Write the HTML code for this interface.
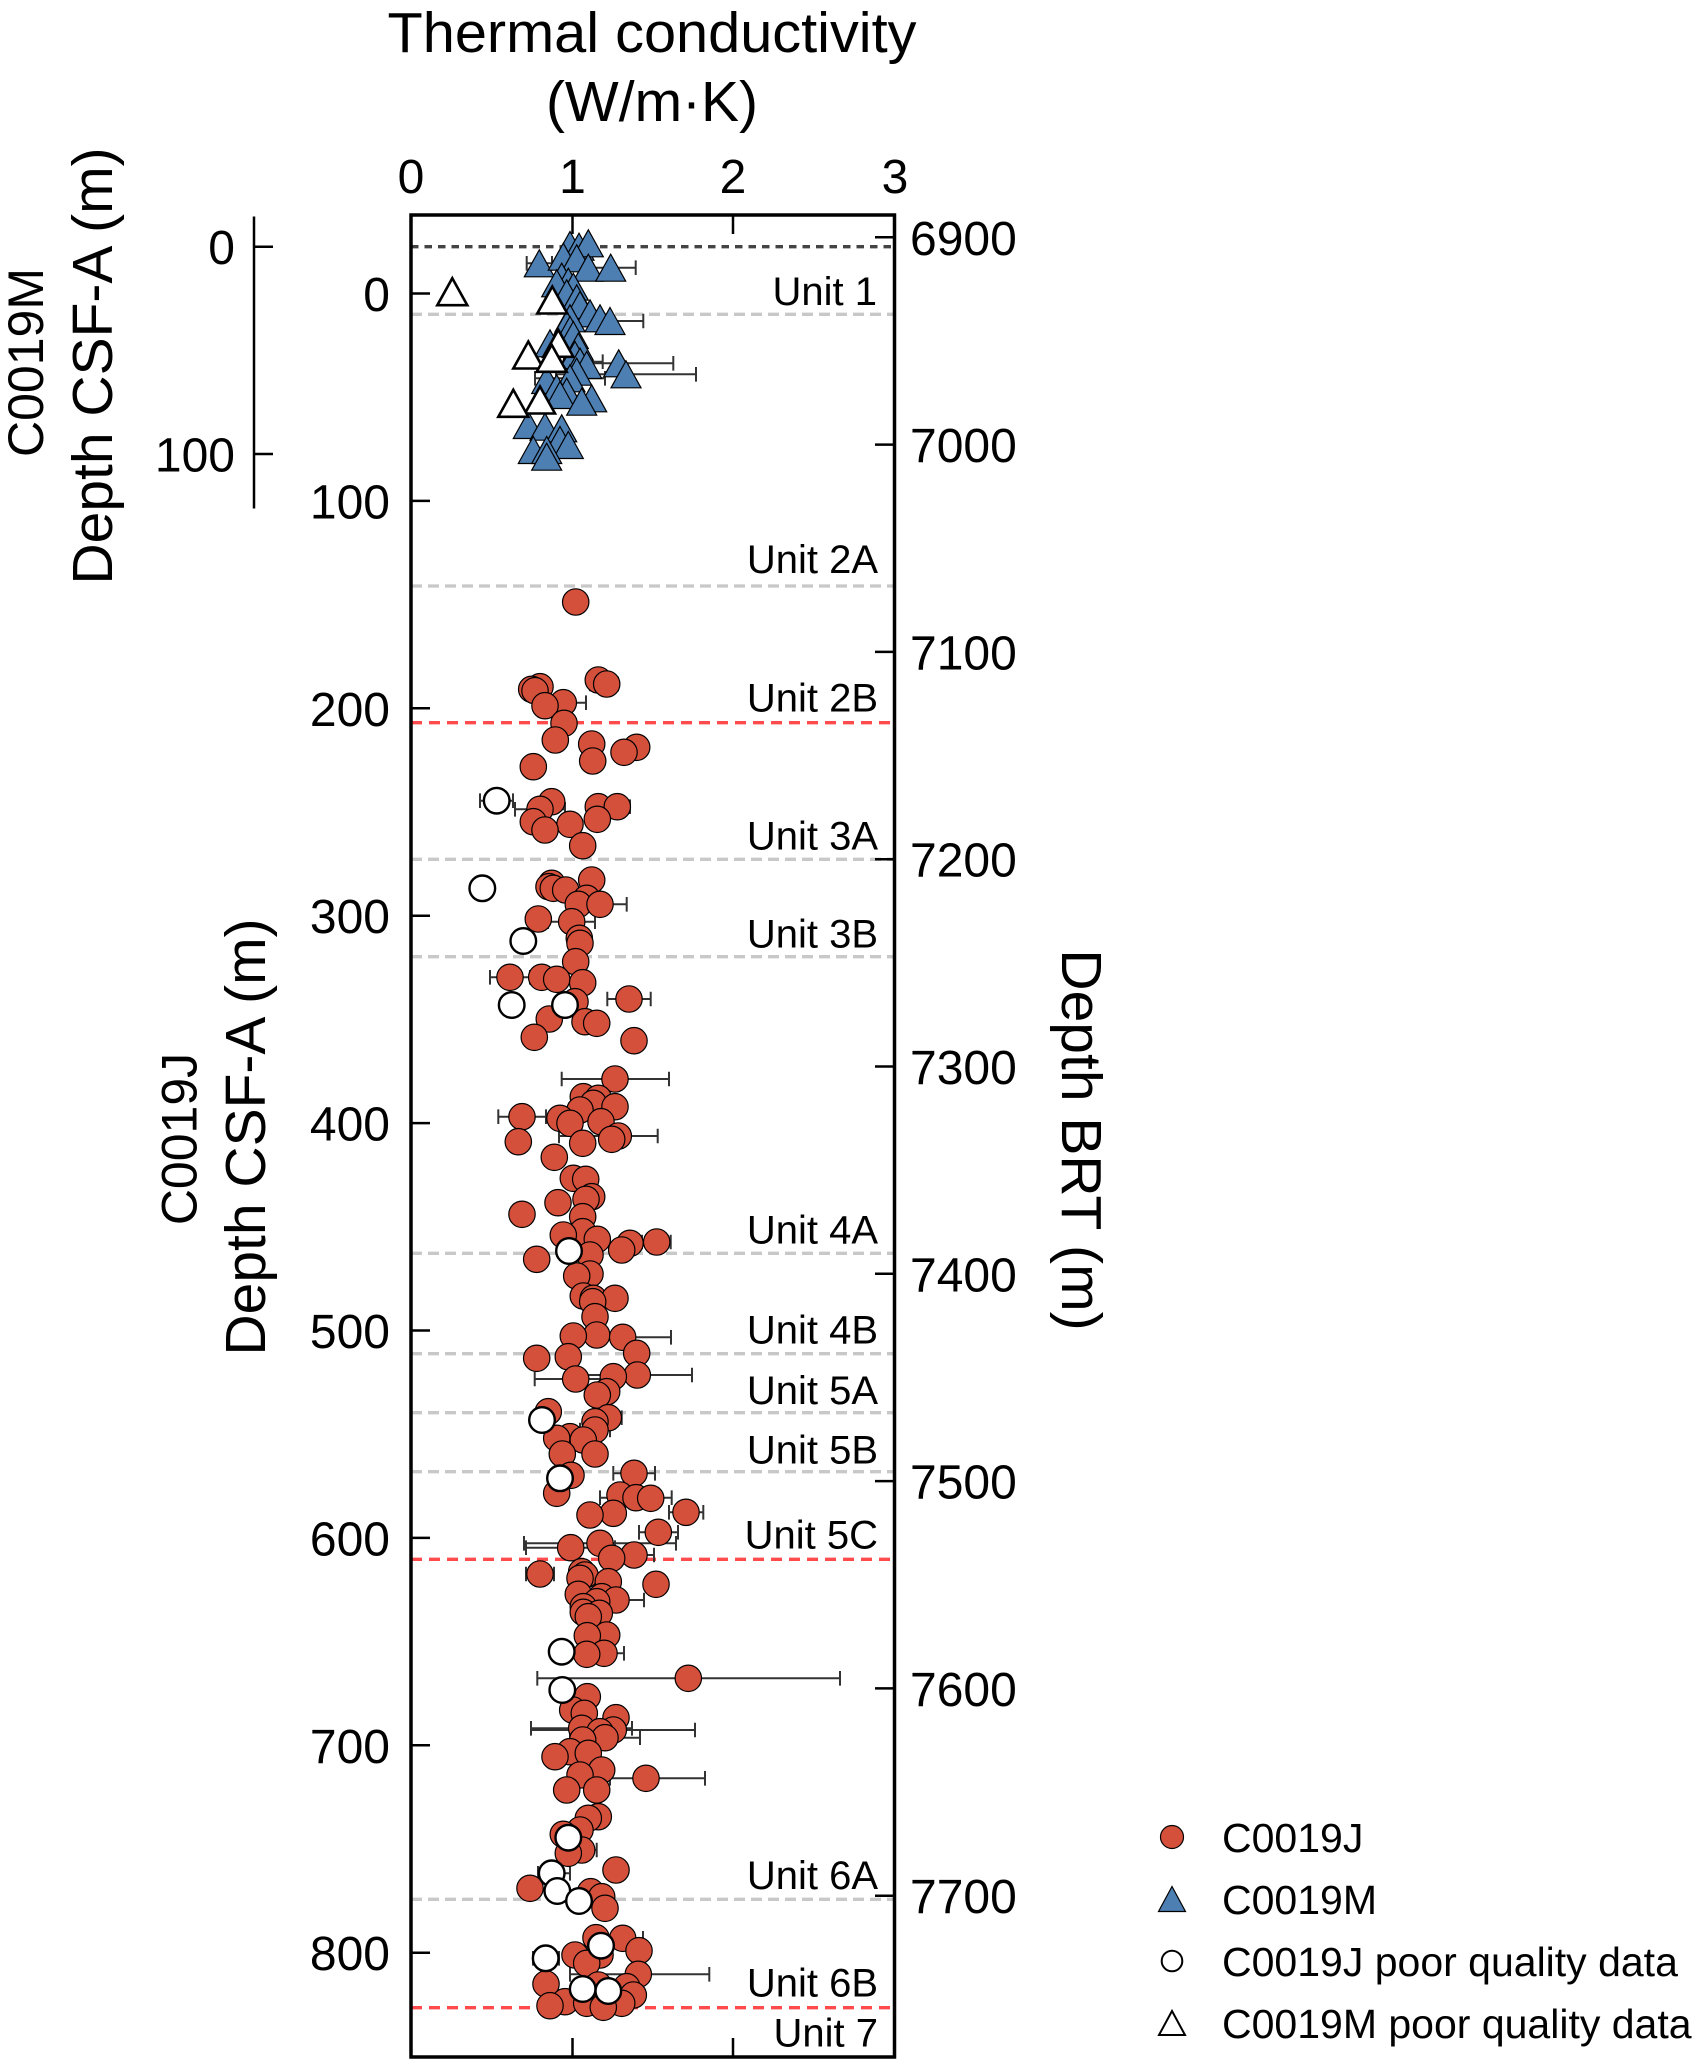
<!DOCTYPE html>
<html><head><meta charset="utf-8"><style>
html,body{margin:0;padding:0;background:#fff;}
svg{display:block;}
text{font-family:"Liberation Sans",Arial,sans-serif;fill:#000;}
</style></head><body>
<svg width="1700" height="2062" viewBox="0 0 1700 2062" xmlns="http://www.w3.org/2000/svg">
<rect width="1700" height="2062" fill="#fff"/>

<!-- Titles -->
<text x="652" y="52" font-size="57" text-anchor="middle" textLength="529" lengthAdjust="spacingAndGlyphs">Thermal conductivity</text>
<text x="652" y="121" font-size="57" text-anchor="middle">(W/m·K)</text>

<!-- top tick labels -->
<g font-size="48" text-anchor="middle">
<text x="411" y="193">0</text><text x="572.5" y="193">1</text><text x="733" y="193">2</text><text x="895" y="193">3</text>
</g>

<!-- left axis titles -->
<text transform="translate(43,362.5) rotate(-90)" font-size="50" text-anchor="middle">C0019M</text>
<text transform="translate(112,366) rotate(-90)" font-size="57" text-anchor="middle">Depth CSF-A (m)</text>
<text transform="translate(196.5,1139) rotate(-90)" font-size="50" text-anchor="middle">C0019J</text>
<text transform="translate(265,1137) rotate(-90)" font-size="57" text-anchor="middle">Depth CSF-A (m)</text>
<text transform="translate(1062,1140) rotate(90)" font-size="57" text-anchor="middle">Depth BRT (m)</text>

<!-- C0019M axis -->
<g stroke="#000" stroke-width="2.5">
<line x1="254" y1="216.5" x2="254" y2="508.5"/>
<line x1="254" y1="246.7" x2="273" y2="246.7"/>
<line x1="254" y1="454" x2="273" y2="454"/>
</g>
<g font-size="48" text-anchor="end">
<text x="235" y="264">0</text><text x="235" y="471.5">100</text>
</g>

<!-- left tick labels -->
<g font-size="48" text-anchor="end">
<text x="390" y="311">0</text>
<text x="390" y="518.4">100</text>
<text x="390" y="725.8">200</text>
<text x="390" y="933.2">300</text>
<text x="390" y="1140.6">400</text>
<text x="390" y="1348">500</text>
<text x="390" y="1555.4">600</text>
<text x="390" y="1762.8">700</text>
<text x="390" y="1970.2">800</text>
</g>

<!-- right tick labels -->
<g font-size="48" text-anchor="start">
<text x="910" y="254.8">6900</text>
<text x="910" y="462.1">7000</text>
<text x="910" y="669.4">7100</text>
<text x="910" y="876.7">7200</text>
<text x="910" y="1084">7300</text>
<text x="910" y="1291.3">7400</text>
<text x="910" y="1498.6">7500</text>
<text x="910" y="1705.9">7600</text>
<text x="910" y="1913.2">7700</text>
</g>

<!-- dashed unit lines -->
<g stroke-width="3.3" fill="none">
<line x1="411" y1="246.7" x2="894" y2="246.7" stroke="#444" stroke-dasharray="7.5 6"/>
<g stroke="#c8c8c8" stroke-dasharray="11 6">
<line x1="411" y1="314.3" x2="894" y2="314.3"/>
<line x1="411" y1="586" x2="894" y2="586"/>
<line x1="411" y1="859.3" x2="894" y2="859.3"/>
<line x1="411" y1="956.7" x2="894" y2="956.7"/>
<line x1="411" y1="1253.3" x2="894" y2="1253.3"/>
<line x1="411" y1="1353.7" x2="894" y2="1353.7"/>
<line x1="411" y1="1412.7" x2="894" y2="1412.7"/>
<line x1="411" y1="1471.7" x2="894" y2="1471.7"/>
<line x1="411" y1="1899.3" x2="894" y2="1899.3"/>
</g>
<g stroke="#ff4b4b" stroke-dasharray="11 7">
<line x1="411" y1="722.7" x2="894" y2="722.7"/>
<line x1="411" y1="1559.3" x2="894" y2="1559.3"/>
<line x1="411" y1="2007.7" x2="894" y2="2007.7"/>
</g>
</g>

<!-- unit labels -->
<g font-size="40" text-anchor="end">
<text x="877" y="305">Unit 1</text>
<text x="878" y="573">Unit 2A</text>
<text x="878" y="711.7">Unit 2B</text>
<text x="878" y="849.3">Unit 3A</text>
<text x="878" y="947.3">Unit 3B</text>
<text x="878" y="1243.3">Unit 4A</text>
<text x="878" y="1343.3">Unit 4B</text>
<text x="878" y="1404">Unit 5A</text>
<text x="878" y="1463.3">Unit 5B</text>
<text x="878" y="1548.3">Unit 5C</text>
<text x="878" y="1889">Unit 6A</text>
<text x="878" y="1996.7">Unit 6B</text>
<text x="878" y="2046.7">Unit 7</text>
</g>

<!-- error bars -->
<g stroke="#333" stroke-width="2" fill="none">
<path d="M526.7 263.3H552M526.7 256v14.6M552 256v14.6"/>
<path d="M585.7 267.7H635.7M585.7 260.4v14.6M635.7 260.4v14.6"/>
<path d="M577 321H643.3M577 313.7v14.6M643.3 313.7v14.6"/>
<path d="M557 361.7H602.7M557 354.4v14.6M602.7 354.4v14.6"/>
<path d="M564 363.3H673.3M564 356v14.6M673.3 356v14.6"/>
<path d="M556 374.3H696M556 367v14.6M696 367v14.6"/>
<path d="M535 378.3H605M535 371v14.6M605 371v14.6"/>
<path d="M540 702.7H586M540 695.4v14.6M586 695.4v14.6"/>
<path d="M590 684H618M590 676.7v14.6M618 676.7v14.6"/>
<path d="M480 800.7H513M480 793.4v14.6M513 793.4v14.6"/>
<path d="M515 809.3H565M515 802v14.6M565 802v14.6"/>
<path d="M605 806.7H630M605 799.4v14.6M630 799.4v14.6"/>
<path d="M573 904.3H626.7M573 897v14.6M626.7 897v14.6"/>
<path d="M548 921.7H595M548 914.4v14.6M595 914.4v14.6"/>
<path d="M490 977.3H530M490 970v14.6M530 970v14.6"/>
<path d="M607.3 999H650.7M607.3 991.7v14.6M650.7 991.7v14.6"/>
<path d="M561.7 1079H669M561.7 1071.7v14.6M669 1071.7v14.6"/>
<path d="M498.3 1116.7H546M498.3 1109.4v14.6M546 1109.4v14.6"/>
<path d="M559 1136H657.7M559 1128.7v14.6M657.7 1128.7v14.6"/>
<path d="M642 1242H670.7M642 1234.7v14.6M670.7 1234.7v14.6"/>
<path d="M574 1337.3H671M574 1330v14.6M671 1330v14.6"/>
<path d="M534.7 1379H616M534.7 1371.7v14.6M616 1371.7v14.6"/>
<path d="M582 1375H692M582 1367.7v14.6M692 1367.7v14.6"/>
<path d="M595 1417.7H621.7M595 1410.4v14.6M621.7 1410.4v14.6"/>
<path d="M580 1430H610M580 1422.7v14.6M610 1422.7v14.6"/>
<path d="M613.3 1473.3H655M613.3 1466v14.6M655 1466v14.6"/>
<path d="M600 1497.7H671.7M600 1490.4v14.6M671.7 1490.4v14.6"/>
<path d="M669 1512.3H703.3M669 1505v14.6M703.3 1505v14.6"/>
<path d="M639 1532.3H678M639 1525v14.6M678 1525v14.6"/>
<path d="M526 1547.7H615M526 1540.4v14.6M615 1540.4v14.6"/>
<path d="M524 1543.3H676M524 1536v14.6M676 1536v14.6"/>
<path d="M614 1555H654M614 1547.7v14.6M654 1547.7v14.6"/>
<path d="M526 1574H554M526 1566.7v14.6M554 1566.7v14.6"/>
<path d="M588 1600H644M588 1592.7v14.6M644 1592.7v14.6"/>
<path d="M584 1653.3H624M584 1646v14.6M624 1646v14.6"/>
<path d="M537.3 1678.3H840M537.3 1671v14.6M840 1671v14.6"/>
<path d="M531 1728.3H632M531 1721v14.6M632 1721v14.6"/>
<path d="M531 1730H695M695 1722.7v14.6"/>
<path d="M570 1737.7H640M570 1730.4v14.6M640 1730.4v14.6"/>
<path d="M610 1778.3H705M610 1771v14.6M705 1771v14.6"/>
<path d="M567 1850H596.7M567 1842.7v14.6M596.7 1842.7v14.6"/>
<path d="M538 1873.3H570M538 1866v14.6M570 1866v14.6"/>
<path d="M602 1938.3H643M602 1931v14.6M643 1931v14.6"/>
<path d="M533 1958.3H559M533 1951v14.6M559 1951v14.6"/>
<path d="M570 1974.3H709.3M570 1967v14.6M709.3 1967v14.6"/>
</g>

<!-- C0019M triangles -->
<g fill="#4d7fb3" stroke="#000" stroke-width="1.2" stroke-linejoin="miter">
<path d="M570 231.5l15 27h-30z"/>
<path d="M579 233.2l15 27h-30z"/>
<path d="M588.3 229.8l15 27h-30z"/>
<path d="M539.3 249.8l15 27h-30z"/>
<path d="M563.3 243.2l15 27h-30z"/>
<path d="M576.7 244.8l15 27h-30z"/>
<path d="M588.3 254.2l15 27h-30z"/>
<path d="M610.7 254.2l15 27h-30z"/>
<path d="M561.7 263.2l15 27h-30z"/>
<path d="M568.3 268.2l15 27h-30z"/>
<path d="M556.7 269.8l15 27h-30z"/>
<path d="M573.3 273.2l15 27h-30z"/>
<path d="M566.7 279.8l15 27h-30z"/>
<path d="M576.7 284.8l15 27h-30z"/>
<path d="M580 291.5l15 27h-30z"/>
<path d="M590 299.8l15 27h-30z"/>
<path d="M600 304.8l15 27h-30z"/>
<path d="M610 307.5l15 27h-30z"/>
<path d="M570 304.8l15 27h-30z"/>
<path d="M566.7 311.5l15 27h-30z"/>
<path d="M570 316.5l15 27h-30z"/>
<path d="M573.3 321.5l15 27h-30z"/>
<path d="M550 329.8l15 27h-30z"/>
<path d="M578.3 333.2l15 27h-30z"/>
<path d="M575 341.5l15 27h-30z"/>
<path d="M580 348.2l15 27h-30z"/>
<path d="M586.7 351.5l15 27h-30z"/>
<path d="M618.7 349.8l15 27h-30z"/>
<path d="M626 360.8l15 27h-30z"/>
<path d="M576.7 358.2l15 27h-30z"/>
<path d="M570 364.8l15 27h-30z"/>
<path d="M546.7 366.5l15 27h-30z"/>
<path d="M556.7 374.8l15 27h-30z"/>
<path d="M566.7 378.2l15 27h-30z"/>
<path d="M560 381.5l15 27h-30z"/>
<path d="M591.7 384.8l15 27h-30z"/>
<path d="M581.7 388.2l15 27h-30z"/>
<path d="M528.3 411.5l15 27h-30z"/>
<path d="M545 413.2l15 27h-30z"/>
<path d="M561.7 414.8l15 27h-30z"/>
<path d="M560 426.5l15 27h-30z"/>
<path d="M568.3 431.5l15 27h-30z"/>
<path d="M533.3 436.5l15 27h-30z"/>
<path d="M546.7 436.5l15 27h-30z"/>
<path d="M546.7 443.2l15 27h-30z"/>
</g>
<g fill="#fff" stroke="#000" stroke-width="2.6" stroke-linejoin="miter">
<path d="M452.3 278.2l15 27h-30z"/>
<path d="M552.3 286.5l15 27h-30z"/>
<path d="M558.3 329.8l15 27h-30z"/>
<path d="M528.3 341.5l15 27h-30z"/>
<path d="M551.7 344.8l15 27h-30z"/>
<path d="M540 386.5l15 27h-30z"/>
<path d="M513.3 389.8l15 27h-30z"/>
</g>

<!-- C0019J circles -->
<g fill="#d5503b" stroke="#000" stroke-width="1.2">
<circle cx="575.7" cy="602" r="13.2"/>
<circle cx="598.3" cy="680" r="13.2"/><circle cx="606.7" cy="684" r="13.2"/><circle cx="540" cy="686.7" r="13.2"/><circle cx="531.7" cy="689.3" r="13.2"/><circle cx="535" cy="690.7" r="13.2"/><circle cx="563.3" cy="702.7" r="13.2"/><circle cx="545" cy="705.7" r="13.2"/><circle cx="564" cy="723.3" r="13.2"/><circle cx="555.3" cy="740" r="13.2"/><circle cx="591.7" cy="744" r="13.2"/><circle cx="636.7" cy="747.3" r="13.2"/><circle cx="624" cy="752.3" r="13.2"/><circle cx="592.7" cy="761" r="13.2"/><circle cx="533.3" cy="766.7" r="13.2"/>
<circle cx="551.7" cy="801.7" r="13.2"/><circle cx="540" cy="809.3" r="13.2"/><circle cx="598.3" cy="806.7" r="13.2"/><circle cx="617.3" cy="806.7" r="13.2"/><circle cx="533.3" cy="821.7" r="13.2"/><circle cx="570" cy="824.3" r="13.2"/><circle cx="597.3" cy="819.3" r="13.2"/><circle cx="545" cy="830" r="13.2"/><circle cx="582.7" cy="845.7" r="13.2"/>
<circle cx="591.7" cy="880" r="13.2"/><circle cx="551.7" cy="883.3" r="13.2"/><circle cx="549" cy="886.7" r="13.2"/><circle cx="553.3" cy="888.3" r="13.2"/><circle cx="565.7" cy="890" r="13.2"/><circle cx="586.7" cy="898.3" r="13.2"/><circle cx="578.3" cy="904.3" r="13.2"/><circle cx="600" cy="904.3" r="13.2"/><circle cx="538.3" cy="919" r="13.2"/><circle cx="571.7" cy="921.7" r="13.2"/><circle cx="579.3" cy="938.3" r="13.2"/><circle cx="580" cy="943.3" r="13.2"/>
<circle cx="575.7" cy="961.7" r="13.2"/><circle cx="510" cy="977.3" r="13.2"/><circle cx="541.7" cy="977.3" r="13.2"/><circle cx="556.7" cy="979.3" r="13.2"/><circle cx="582.7" cy="982.7" r="13.2"/><circle cx="629" cy="999" r="13.2"/><circle cx="575" cy="1001.7" r="13.2"/><circle cx="549.3" cy="1019" r="13.2"/><circle cx="585" cy="1021.7" r="13.2"/><circle cx="596.7" cy="1023.3" r="13.2"/><circle cx="534.3" cy="1037.3" r="13.2"/><circle cx="634" cy="1040.7" r="13.2"/>
<circle cx="615" cy="1079" r="13.2"/><circle cx="583.3" cy="1096.7" r="13.2"/><circle cx="598.3" cy="1098.3" r="13.2"/><circle cx="593.3" cy="1103.3" r="13.2"/><circle cx="615" cy="1106.7" r="13.2"/><circle cx="580" cy="1110" r="13.2"/><circle cx="522" cy="1116.7" r="13.2"/><circle cx="560" cy="1118.3" r="13.2"/><circle cx="601" cy="1121.7" r="13.2"/><circle cx="570" cy="1123.3" r="13.2"/><circle cx="618.3" cy="1136" r="13.2"/><circle cx="611.7" cy="1139.3" r="13.2"/><circle cx="518.3" cy="1141.7" r="13.2"/><circle cx="582.7" cy="1143.3" r="13.2"/><circle cx="554.3" cy="1157.3" r="13.2"/>
<circle cx="573.3" cy="1178.3" r="13.2"/><circle cx="585.7" cy="1179.3" r="13.2"/><circle cx="591.7" cy="1196.7" r="13.2"/><circle cx="586" cy="1199.3" r="13.2"/><circle cx="558" cy="1202.7" r="13.2"/><circle cx="522" cy="1214.3" r="13.2"/><circle cx="582.7" cy="1216.7" r="13.2"/><circle cx="582.7" cy="1231.7" r="13.2"/><circle cx="563.3" cy="1235" r="13.2"/><circle cx="597.3" cy="1239.3" r="13.2"/><circle cx="656.7" cy="1242" r="13.2"/><circle cx="630" cy="1243.3" r="13.2"/><circle cx="621.7" cy="1250" r="13.2"/><circle cx="590" cy="1255" r="13.2"/><circle cx="536.7" cy="1259.3" r="13.2"/>
<circle cx="590" cy="1274" r="13.2"/><circle cx="576.7" cy="1276" r="13.2"/><circle cx="583.3" cy="1296" r="13.2"/><circle cx="593.3" cy="1298.3" r="13.2"/><circle cx="615" cy="1298.3" r="13.2"/><circle cx="592.7" cy="1301.7" r="13.2"/><circle cx="595" cy="1316.7" r="13.2"/>
<circle cx="596.7" cy="1335" r="13.2"/><circle cx="573.3" cy="1336" r="13.2"/><circle cx="622.7" cy="1337.3" r="13.2"/><circle cx="636.7" cy="1353.3" r="13.2"/><circle cx="568.3" cy="1356.7" r="13.2"/><circle cx="536.7" cy="1358.3" r="13.2"/><circle cx="637.3" cy="1375" r="13.2"/><circle cx="613.3" cy="1376.7" r="13.2"/><circle cx="575.7" cy="1379" r="13.2"/><circle cx="606.7" cy="1391.7" r="13.2"/><circle cx="597.3" cy="1395" r="13.2"/>
<circle cx="548.3" cy="1411.7" r="13.2"/><circle cx="608.3" cy="1417.7" r="13.2"/><circle cx="595" cy="1421.7" r="13.2"/><circle cx="595" cy="1430" r="13.2"/><circle cx="570" cy="1436.7" r="13.2"/><circle cx="556.7" cy="1438.3" r="13.2"/><circle cx="583.3" cy="1440" r="13.2"/><circle cx="562.3" cy="1454" r="13.2"/><circle cx="595" cy="1454" r="13.2"/>
<circle cx="634" cy="1473.3" r="13.2"/><circle cx="571" cy="1475.3" r="13.2"/><circle cx="556.7" cy="1493.3" r="13.2"/><circle cx="620" cy="1495" r="13.2"/><circle cx="636" cy="1497.7" r="13.2"/><circle cx="650.7" cy="1498.3" r="13.2"/><circle cx="686" cy="1512.3" r="13.2"/><circle cx="613.3" cy="1513.3" r="13.2"/><circle cx="590" cy="1515" r="13.2"/><circle cx="658.3" cy="1532.3" r="13.2"/><circle cx="600" cy="1543.3" r="13.2"/><circle cx="570.7" cy="1547.7" r="13.2"/><circle cx="634" cy="1555" r="13.2"/><circle cx="611.7" cy="1558.3" r="13.2"/>
<circle cx="581.7" cy="1571.7" r="13.2"/><circle cx="540" cy="1574" r="13.2"/><circle cx="585" cy="1575" r="13.2"/><circle cx="580" cy="1578.3" r="13.2"/><circle cx="608.3" cy="1581.7" r="13.2"/><circle cx="656" cy="1584.3" r="13.2"/><circle cx="578.3" cy="1594.3" r="13.2"/><circle cx="601.7" cy="1596.7" r="13.2"/><circle cx="616" cy="1600" r="13.2"/><circle cx="596.7" cy="1601.7" r="13.2"/><circle cx="583.3" cy="1606.7" r="13.2"/><circle cx="583.3" cy="1612.3" r="13.2"/><circle cx="599.3" cy="1613.3" r="13.2"/><circle cx="588.3" cy="1616.7" r="13.2"/><circle cx="606.7" cy="1635" r="13.2"/><circle cx="587.3" cy="1635.7" r="13.2"/><circle cx="604" cy="1653.3" r="13.2"/><circle cx="586.7" cy="1654.3" r="13.2"/>
<circle cx="688.3" cy="1678.3" r="13.2"/><circle cx="587.3" cy="1696.7" r="13.2"/><circle cx="572.7" cy="1710" r="13.2"/><circle cx="584.3" cy="1713.3" r="13.2"/><circle cx="616" cy="1717.7" r="13.2"/><circle cx="581.7" cy="1728.3" r="13.2"/><circle cx="613.3" cy="1730" r="13.2"/><circle cx="600" cy="1731.7" r="13.2"/><circle cx="605" cy="1737.7" r="13.2"/><circle cx="582.7" cy="1740" r="13.2"/><circle cx="570" cy="1751.7" r="13.2"/><circle cx="588.3" cy="1753.3" r="13.2"/><circle cx="555" cy="1756.7" r="13.2"/><circle cx="601.7" cy="1770" r="13.2"/><circle cx="580" cy="1775" r="13.2"/><circle cx="646" cy="1778.3" r="13.2"/><circle cx="566.7" cy="1790" r="13.2"/><circle cx="596.7" cy="1790" r="13.2"/>
<circle cx="598.3" cy="1816.7" r="13.2"/><circle cx="588.3" cy="1818.3" r="13.2"/><circle cx="580" cy="1830" r="13.2"/><circle cx="563.3" cy="1834.3" r="13.2"/><circle cx="581.7" cy="1850" r="13.2"/><circle cx="568.3" cy="1853.3" r="13.2"/><circle cx="616" cy="1870" r="13.2"/><circle cx="530" cy="1888.3" r="13.2"/><circle cx="590.7" cy="1891.7" r="13.2"/><circle cx="601.7" cy="1896.7" r="13.2"/><circle cx="605" cy="1908.3" r="13.2"/>
<circle cx="596" cy="1937.7" r="13.2"/><circle cx="622.7" cy="1938.3" r="13.2"/><circle cx="639" cy="1950.7" r="13.2"/><circle cx="575" cy="1955" r="13.2"/><circle cx="600" cy="1955" r="13.2"/><circle cx="586.7" cy="1963.3" r="13.2"/><circle cx="638.3" cy="1974.3" r="13.2"/><circle cx="546" cy="1984" r="13.2"/><circle cx="598.3" cy="1985" r="13.2"/><circle cx="626.7" cy="1986.7" r="13.2"/><circle cx="633.3" cy="1995" r="13.2"/><circle cx="565" cy="2001.7" r="13.2"/><circle cx="586.7" cy="2003.3" r="13.2"/><circle cx="621.7" cy="2003.3" r="13.2"/><circle cx="550" cy="2005.7" r="13.2"/><circle cx="603.3" cy="2007.3" r="13.2"/>
</g>
<g fill="#fff" stroke="#000" stroke-width="2.4">
<circle cx="496.7" cy="800.7" r="12.8"/><circle cx="482.3" cy="888.3" r="12.8"/><circle cx="523.3" cy="941" r="12.8"/><circle cx="511.7" cy="1005" r="12.8"/><circle cx="565" cy="1005" r="12.8"/><circle cx="569" cy="1251" r="12.8"/><circle cx="542" cy="1420" r="12.8"/><circle cx="560" cy="1478.3" r="12.8"/><circle cx="561.7" cy="1651.7" r="12.8"/><circle cx="562.3" cy="1690" r="12.8"/><circle cx="568.3" cy="1837.7" r="12.8"/><circle cx="551.7" cy="1873.3" r="12.8"/><circle cx="557.3" cy="1891" r="12.8"/><circle cx="579" cy="1901" r="12.8"/><circle cx="601" cy="1945.7" r="12.8"/><circle cx="545.7" cy="1958.3" r="12.8"/><circle cx="582.7" cy="1989" r="12.8"/><circle cx="608.3" cy="1991" r="12.8"/>
</g>

<!-- frame -->
<rect x="411" y="215" width="483.5" height="1842" fill="none" stroke="#000" stroke-width="3.5"/>
<g stroke="#000" stroke-width="2.5">
<line x1="572.5" y1="215" x2="572.5" y2="234"/>
<line x1="733" y1="215" x2="733" y2="234"/>
<line x1="572.5" y1="2057" x2="572.5" y2="2038"/>
<line x1="733" y1="2057" x2="733" y2="2038"/>
<line x1="411" y1="293.5" x2="430" y2="293.5"/>
<line x1="411" y1="500.9" x2="430" y2="500.9"/>
<line x1="411" y1="708.3" x2="430" y2="708.3"/>
<line x1="411" y1="915.7" x2="430" y2="915.7"/>
<line x1="411" y1="1123.1" x2="430" y2="1123.1"/>
<line x1="411" y1="1330.5" x2="430" y2="1330.5"/>
<line x1="411" y1="1537.9" x2="430" y2="1537.9"/>
<line x1="411" y1="1745.3" x2="430" y2="1745.3"/>
<line x1="411" y1="1952.7" x2="430" y2="1952.7"/>
<line x1="894.5" y1="237.3" x2="875" y2="237.3"/>
<line x1="894.5" y1="444.6" x2="875" y2="444.6"/>
<line x1="894.5" y1="651.9" x2="875" y2="651.9"/>
<line x1="894.5" y1="859.2" x2="875" y2="859.2"/>
<line x1="894.5" y1="1066.5" x2="875" y2="1066.5"/>
<line x1="894.5" y1="1273.8" x2="875" y2="1273.8"/>
<line x1="894.5" y1="1481.1" x2="875" y2="1481.1"/>
<line x1="894.5" y1="1688.4" x2="875" y2="1688.4"/>
<line x1="894.5" y1="1895.7" x2="875" y2="1895.7"/>
</g>

<!-- legend -->
<circle cx="1172" cy="1837" r="11.5" fill="#d5503b" stroke="#000" stroke-width="1.2"/>
<path d="M1172 1886.5l13.5 25h-27z" fill="#4d7fb3" stroke="#000" stroke-width="1.2"/>
<circle cx="1172" cy="1961" r="10.3" fill="#fff" stroke="#000" stroke-width="2"/>
<path d="M1172 2011l13 24h-26z" fill="#fff" stroke="#000" stroke-width="2"/>
<g font-size="41">
<text x="1222" y="1852">C0019J</text>
<text x="1222" y="1914">C0019M</text>
<text x="1222" y="1976">C0019J poor quality data</text>
<text x="1222" y="2038">C0019M poor quality data</text>
</g>
</svg>
</body></html>
